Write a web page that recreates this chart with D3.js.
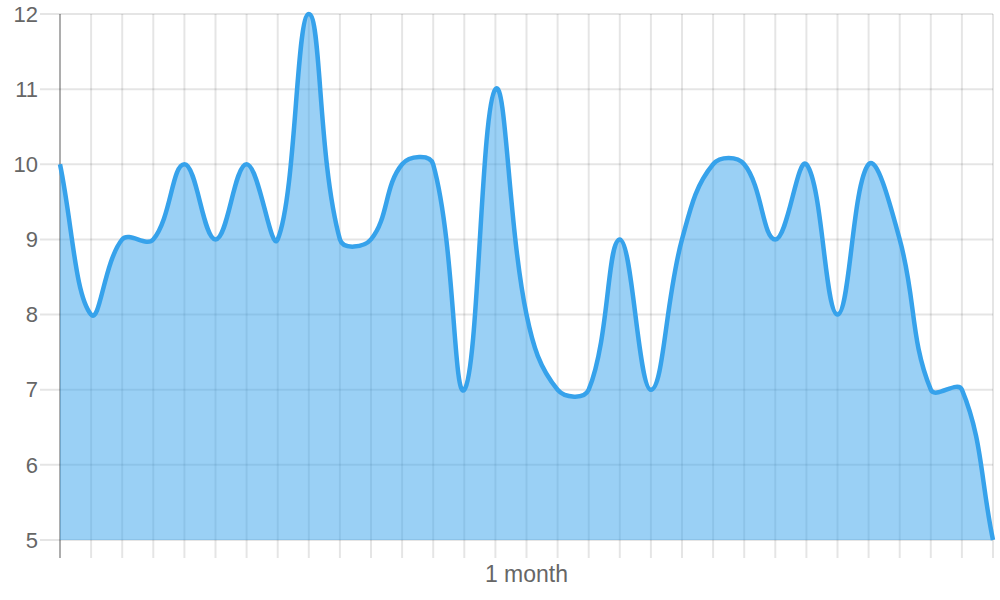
<!DOCTYPE html>
<html>
<head>
<meta charset="utf-8">
<script src="https://cdn.jsdelivr.net/npm/d3@7"></script>
<style>
  html, body { margin: 0; padding: 0; background: #fff; }
  svg { display: block; }
  text { font-family: "Helvetica Neue", Helvetica, Arial, "Liberation Sans", sans-serif; fill: #666; }
</style>
</head>
<body>
<svg id="chart" width="1000" height="600"></svg>
<script>
// ---- data ----
const days = ["1","2","3","4","5","6","7","8","9","10","11","12","13","14","15","16",
              "17","18","19","20","21","22","23","24","25","26","27","28","29","30","31"];
const values = [10, 8, 9, 9, 10, 9, 10, 9, 12, 9, 9, 10, 10, 7, 11, 8,
                7, 7, 9, 7, 9, 10, 10, 9, 10, 8, 10, 9, 7, 7, 5];
const yTicks = [5, 6, 7, 8, 9, 10, 11, 12];
const xTitle = "1 month";

// ---- layout ----
const area = { left: 60, right: 993, top: 14, bottom: 540 };
const svg = d3.select("#chart");

const x = d3.scalePoint().domain(days).range([area.left, area.right]);
const y = d3.scaleLinear().domain([5, 12]).range([area.bottom, area.top]);

// Chart.js-style spline (distance weighted control points, capped to chart area)
function chartSpline(tension, box) {
  return function(context) {
    return {
      _line: undefined,
      areaStart() { this._line = 0; },
      areaEnd() { this._line = NaN; },
      lineStart() { this._pts = []; },
      point(px, py) { this._pts.push({ x: +px, y: +py }); },
      lineEnd() {
        const p = this._pts, n = p.length;
        if (n) {
          if (this._line) context.lineTo(p[0].x, p[0].y); else context.moveTo(p[0].x, p[0].y);
          const cap = (cx, cy) => ({
            x: Math.max(box.left, Math.min(box.right, cx)),
            y: Math.max(box.top, Math.min(box.bottom, cy))
          });
          const cps = p.map((cur, i) => {
            const prev = p[i - 1] || cur, next = p[i + 1] || cur;
            const d01 = Math.hypot(cur.x - prev.x, cur.y - prev.y);
            const d12 = Math.hypot(next.x - cur.x, next.y - cur.y);
            let s01 = d01 / (d01 + d12), s12 = d12 / (d01 + d12);
            if (isNaN(s01)) s01 = 0;
            if (isNaN(s12)) s12 = 0;
            const fa = tension * s01, fb = tension * s12;
            return {
              prev: cap(cur.x - fa * (next.x - prev.x), cur.y - fa * (next.y - prev.y)),
              next: cap(cur.x + fb * (next.x - prev.x), cur.y + fb * (next.y - prev.y))
            };
          });
          for (let i = 1; i < n; i++) {
            context.bezierCurveTo(cps[i - 1].next.x, cps[i - 1].next.y,
                                  cps[i].prev.x, cps[i].prev.y, p[i].x, p[i].y);
          }
        }
        if (this._line || (this._line !== 0 && n === 1)) context.closePath();
        this._line = 1 - this._line;
      }
    };
  };
}
const curve = chartSpline(0.4, area);

// ---- grid ----
const grid = svg.append("g");
// horizontal gridlines with 20px tick to the left
grid.append("g")
  .attr("transform", `translate(${area.right},0)`)
  .call(d3.axisLeft(y).tickValues(yTicks).tickSize(area.right - area.left + 20).tickFormat("").offset(0))
  .call(g => g.select(".domain").remove())
  .call(g => g.selectAll("line").attr("stroke", "rgba(0,0,0,0.1)").attr("stroke-width", 2));
// vertical gridlines with 18px tick below
grid.append("g")
  .attr("transform", `translate(0,${area.top})`)
  .call(d3.axisBottom(x).tickSize(area.bottom - area.top + 18).tickFormat("").offset(0))
  .call(g => g.select(".domain").remove())
  .call(g => g.selectAll("line")
    .attr("stroke", (d, i) => i === 0 ? "rgba(0,0,0,0.32)" : "rgba(0,0,0,0.1)")
    .attr("stroke-width", 2));

// ---- y labels ----
svg.append("g")
  .selectAll("text")
  .data(yTicks)
  .join("text")
  .attr("x", area.left - 22)
  .attr("y", d => y(d))
  .attr("dy", "0.35em")
  .attr("text-anchor", "end")
  .attr("font-size", 22)
  .text(d => d);

// ---- x title ----
svg.append("text")
  .attr("x", (area.left + area.right) / 2)
  .attr("y", 582)
  .attr("text-anchor", "middle")
  .attr("font-size", 23)
  .text(xTitle);

// ---- series ----
svg.append("path")
  .datum(values)
  .attr("fill", "rgba(54,162,235,0.5)")
  .attr("d", d3.area().x((d, i) => x(days[i])).y0(y(5)).y1(d => y(d)).curve(curve));

svg.append("path")
  .datum(values)
  .attr("fill", "none")
  .attr("stroke", "rgb(54,162,235)")
  .attr("stroke-width", 4.5)
  .attr("d", d3.line().x((d, i) => x(days[i])).y(d => y(d)).curve(curve));
</script>
</body>
</html>
